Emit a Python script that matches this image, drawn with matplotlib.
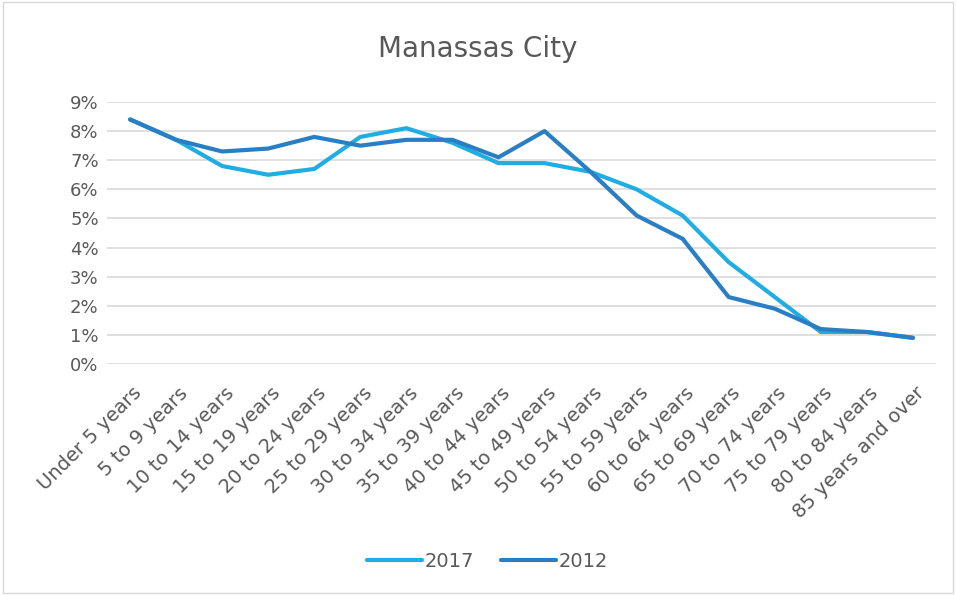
import matplotlib
matplotlib.use("Agg")
import matplotlib.pyplot as plt
from matplotlib.patches import Rectangle
import matplotlib.transforms as mtransforms

categories = ["Under 5 years", "5 to 9 years", "10 to 14 years", "15 to 19 years",
              "20 to 24 years", "25 to 29 years", "30 to 34 years", "35 to 39 years",
              "40 to 44 years", "45 to 49 years", "50 to 54 years", "55 to 59 years",
              "60 to 64 years", "65 to 69 years", "70 to 74 years", "75 to 79 years",
              "80 to 84 years", "85 years and over"]
values_2017 = [8.4, 7.7, 6.8, 6.5, 6.7, 7.8, 8.1, 7.6, 6.9, 6.9, 6.6, 6.0, 5.1, 3.5, 2.3, 1.1, 1.1, 0.9]
values_2012 = [8.4, 7.7, 7.3, 7.4, 7.8, 7.5, 7.7, 7.7, 7.1, 8.0, 6.6, 5.1, 4.3, 2.3, 1.9, 1.2, 1.1, 0.9]
y_ticks = [0, 1, 2, 3, 4, 5, 6, 7, 8, 9]

plt.rcParams['font.family'] = ['DejaVu Sans']
text_color = "#595959"

fig = plt.figure(figsize=(9.56, 5.95), dpi=100)
ax = fig.add_axes([0.112, 0.3882, 0.867, 0.4404])

x = list(range(len(categories)))
ax.plot(x, values_2017, color="#1FADE4", lw=3.0, label="2017", solid_capstyle="round", solid_joinstyle="round")
ax.plot(x, values_2012, color="#2A7FC4", lw=3.0, label="2012", solid_capstyle="round", solid_joinstyle="round")

ax.set_xlim(-0.5, len(categories) - 0.5)
ax.set_ylim(0, 9)
ax.set_yticks(y_ticks)
ax.set_yticklabels([f"{v}%" for v in y_ticks], color=text_color, fontsize=13)
ax.set_xticks(x)
ax.set_xticklabels(categories, rotation=45, ha="right", rotation_mode="anchor",
                   color=text_color, fontsize=14)
ax.tick_params(axis="y", length=0, pad=6)
ax.tick_params(axis="x", length=0, pad=14)
offset = mtransforms.ScaledTranslation(2 / 100, 0, fig.dpi_scale_trans)
for lbl in ax.get_xticklabels():
    lbl.set_transform(lbl.get_transform() + offset)
ax.grid(axis="y", color="#D9D9D9", lw=1.2)
ax.set_axisbelow(True)
for s in ax.spines.values():
    s.set_visible(False)

fig.text(0.5, 0.918, "Manassas City", ha="center", va="center", fontsize=20, color=text_color)

leg = fig.legend(loc="center", bbox_to_anchor=(0.51, 0.057), ncol=2, frameon=False,
                 fontsize=14, handlelength=2.8, columnspacing=1.4, handletextpad=0.15)
for t in leg.get_texts():
    t.set_color(text_color)

fig.patches.append(Rectangle((0.003, 0.003), 0.994, 0.994, transform=fig.transFigure,
                             fill=False, edgecolor="#D9D9D9", lw=1))

fig.savefig("out.png", dpi=100)
